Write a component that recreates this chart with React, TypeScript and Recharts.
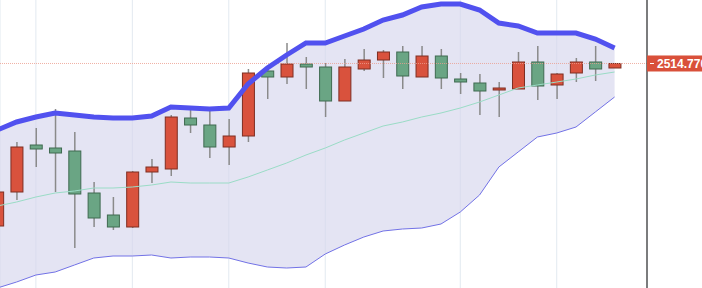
import { ComposedChart, Bar, Line, Area, XAxis, YAxis, CartesianGrid, ReferenceLine } from 'recharts';

// OHLC per session, index 0 is the partly hidden candle on the left edge
const opens = [2271, 2322, 2392.5, 2388, 2383.5, 2320.5, 2287.5, 2269.5, 2352, 2356.5, 2433, 2422.5, 2389.5, 2406, 2503.5, 2494.5, 2514, 2509.5, 2458.5, 2506.5, 2520, 2532, 2494.5, 2526, 2491.5, 2485.5, 2475, 2476.5, 2517, 2482.5, 2500.5, 2517, 2508];
const closes = [2322, 2389.5, 2386.5, 2380.5, 2319, 2283, 2269.5, 2352, 2359.5, 2434.5, 2422.5, 2389.5, 2406, 2500.5, 2494.5, 2514, 2509.5, 2458.5, 2509.5, 2520, 2532, 2496, 2526, 2493, 2487, 2473.5, 2478, 2517, 2481, 2499, 2517, 2506.5, 2514.77];
const highs = [2325, 2397, 2418, 2446.5, 2412, 2337, 2314.5, 2353.5, 2371.5, 2437.5, 2445, 2448, 2431.5, 2506.5, 2505, 2545.5, 2524.5, 2515.5, 2521.5, 2536.5, 2535, 2541, 2541, 2536.5, 2500.5, 2499, 2487, 2532, 2541, 2500.5, 2523, 2541, 2514.77];
const lows = [2268, 2310, 2359.5, 2322, 2238, 2269.5, 2265, 2268, 2335.5, 2346, 2410.5, 2373, 2362.5, 2397, 2461.5, 2484, 2476.5, 2434.5, 2458.5, 2503.5, 2493, 2476.5, 2494.5, 2476.5, 2469, 2437.5, 2434.5, 2476.5, 2460, 2461.5, 2487, 2488.5, 2508];

// Bollinger bands
const upperBand = [2415, 2427, 2434.5, 2440.5, 2437.5, 2434.5, 2433, 2433, 2436, 2449.5, 2448, 2446.5, 2448, 2484, 2508, 2527.5, 2545.5, 2545.5, 2556, 2566.5, 2580, 2587.5, 2599.5, 2604, 2604, 2595, 2575.5, 2571, 2560.5, 2560.5, 2560.5, 2551.5, 2538];
const middleBand = [2301, 2307, 2314.5, 2320.5, 2323.5, 2328, 2328, 2329.5, 2332.5, 2337, 2335.5, 2335.5, 2335.5, 2344.5, 2355, 2365.5, 2377.5, 2388, 2400, 2410.5, 2421, 2427, 2434.5, 2440.5, 2448, 2457, 2467.5, 2478, 2482.5, 2487, 2491.5, 2497.5, 2502];
const lowerBand = [2178, 2187, 2197.5, 2202, 2212.5, 2223, 2226, 2226, 2227.5, 2223, 2224.5, 2224.5, 2223, 2215.5, 2209.5, 2208, 2209.5, 2229, 2242.5, 2254.5, 2263.5, 2266.5, 2268, 2274, 2292, 2317.5, 2359.5, 2382, 2404.5, 2410.5, 2419.5, 2442, 2464.5];

// sessions where a new week starts (vertical grid)
const weekStarts = [2, 7, 12, 17, 24, 29];
const lastPrice = 2514.77;

const data = opens.map((o, i) => ({
  i,
  open: o,
  close: closes[i],
  high: highs[i],
  low: lows[i],
  range: [lows[i], highs[i]],
  upper: upperBand[i],
  middle: middleBand[i],
  lower: lowerBand[i],
  band: [lowerBand[i], upperBand[i]],
}));

const Candle = (props: any) => {
  const { x, y, width, height, payload } = props;
  const { open, close, high, low } = payload;
  const ratio = high === low ? 0 : height / (high - low);
  const up = close >= open;
  const top = y + (high - Math.max(open, close)) * ratio;
  const bot = y + (high - Math.min(open, close)) * ratio;
  const cx = x + width / 2;
  return (
    <g>
      <line x1={cx} x2={cx} y1={y} y2={y + height} stroke="#8a8a8a" strokeWidth={1.5} />
      <rect
        x={x}
        y={top}
        width={width}
        height={Math.max(bot - top, 1.5)}
        fill={up ? '#d9523d' : '#6aa584'}
        stroke={up ? '#7e2e22' : '#3f6a50'}
        strokeWidth={1}
      />
    </g>
  );
};

const PriceTag = (props: any) => {
  const { x, y, payload } = props;
  return (
    <g>
      <rect x={x} y={y - 8} width={60} height={16} fill="#d9503a" />
      <line x1={x + 3} x2={x + 7} y1={y} y2={y} stroke="#fff" strokeWidth={1} />
      <text x={x + 10} y={y + 4.5} fill="#fff" fontSize={12} fontWeight="bold" fontFamily="'Liberation Sans', Arial, sans-serif">
        {Number(payload.value).toFixed(3)}
      </text>
    </g>
  );
};

export default function App() {
  return (
    <div style={{ position: 'absolute', left: 0, top: 0, background: '#fff' }}>
      <ComposedChart width={702} height={288} data={data} margin={{ top: 0, right: 0, left: 0, bottom: 0 }}>
        <XAxis dataKey="i" type="number" domain={[0.14, 33.68]} allowDataOverflow ticks={weekStarts} hide />
        <YAxis
          orientation="right"
          width={55}
          domain={[2178, 2610]}
          allowDataOverflow
          ticks={[lastPrice]}
          tick={<PriceTag />}
          tickLine={false}
          tickSize={0}
          tickMargin={0}
          axisLine={{ stroke: '#555', strokeWidth: 1.5 }}
        />
        <Area dataKey="band" type="linear" stroke="none" fill="#d6d6ec" fillOpacity={0.65} isAnimationActive={false} />
        <CartesianGrid vertical horizontal={false} stroke="#e2e9f0" />
        <Line dataKey="middle" type="linear" stroke="#9adcc6" strokeWidth={1} dot={false} isAnimationActive={false} />
        <Line dataKey="lower" type="linear" stroke="#7272e6" strokeWidth={1} dot={false} isAnimationActive={false} />
        <ReferenceLine y={lastPrice} stroke="#ec9d8e" strokeOpacity={0.8} strokeDasharray="1 1" />
        <Bar dataKey="range" barSize={12} shape={<Candle />} isAnimationActive={false} />
        <Line dataKey="upper" type="linear" stroke="#5151ef" strokeWidth={5} dot={false} isAnimationActive={false} />
      </ComposedChart>
    </div>
  );
}
